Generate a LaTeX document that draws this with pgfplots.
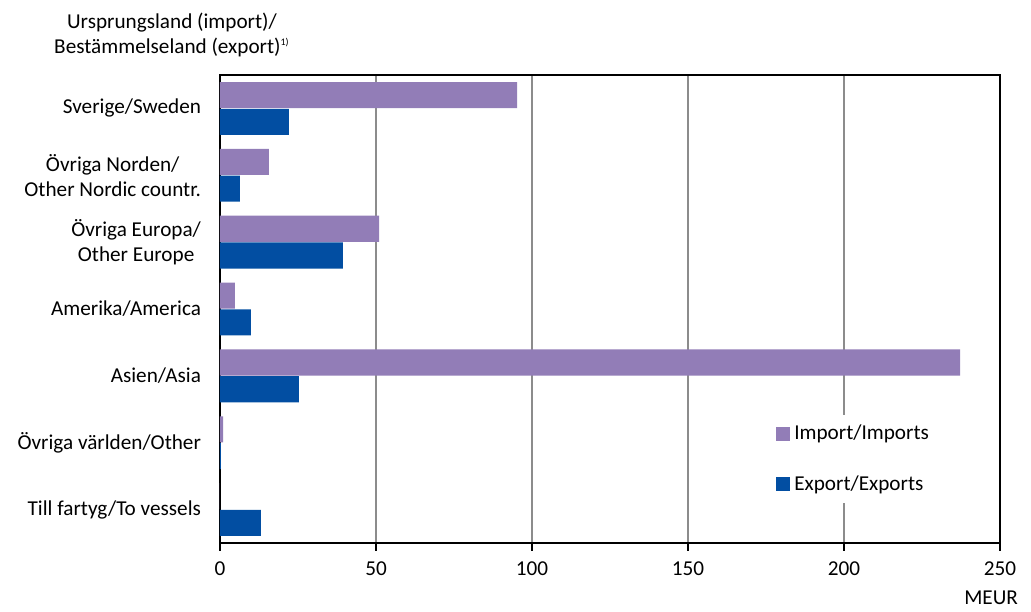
\documentclass[border=0pt]{standalone}
\usepackage{fontspec}
\setmainfont{Carlito}
\usepackage{pgfplots}
\pgfplotsset{compat=1.18}
\definecolor{impcol}{RGB}{146,125,183}
\definecolor{expcol}{RGB}{2,78,162}
\definecolor{gridcol}{RGB}{140,140,140}
\begin{document}
\begin{tikzpicture}
\begin{axis}[
  name=ax,
  scale only axis,
  width=390pt, height=234pt,
  xmin=0, xmax=250,
  ymin=-0.5, ymax=6.5,
  xtick={0,50,...,250},
  ytick={0,...,6},
  yticklabels={Till fartyg/To vessels, Övriga världen/Other, Asien/Asia, Amerika/America, {Övriga Europa/\\Other Europe}, {Övriga Norden/\\Other Nordic countr.}, Sverige/Sweden},
  yticklabel style={align=center, xshift=-2pt},
  xticklabel style={yshift=-2pt},
  /pgf/number format/assume math mode=true,
  font=\fontsize{10.6}{12.5}\selectfont,
  xmajorgrids,
  grid style={gridcol, line width=0.6pt},
  axis line style={black, line width=0.7pt},
  tick style={black, line width=0.6pt},
  ytick style={draw=none},
  xtick pos=bottom,
  tick align=outside,
  major tick length=4pt,
  xbar,
  bar width=0.39,
  legend style={at={(0.705,0.275)}, anchor=north west, draw=none, fill=white,
    font=\fontsize{10.6}{12.5}\selectfont, row sep=12.5pt, inner sep=3pt},
  legend cell align=left,
  legend image code/.code={\fill[#1] (0pt,-3.5pt) rectangle (7pt,3.5pt);},
]
\addplot[fill=impcol, draw=none, bar shift=0.2] coordinates {
  (95.2,6) (15.7,5) (51.0,4) (4.8,3) (237.2,2) (1.0,1) (0,0)};
\addlegendentry{Import/Imports}
\addplot[fill=expcol, draw=none, bar shift=-0.2] coordinates {
  (22.1,6) (6.4,5) (39.4,4) (9.9,3) (25.3,2) (0.3,1) (13.1,0)};
\addlegendentry{Export/Exports}
\end{axis}
\node[align=center, font=\fontsize{10.6}{12.5}\selectfont] at ([xshift=-24pt,yshift=20pt]ax.north west)
  {Ursprungsland (import)/\\Bestämmelseland (export)\textsuperscript{\tiny 1)}};
\node[anchor=east, font=\fontsize{10.6}{12.5}\selectfont] at ([xshift=12.5pt,yshift=-27.5pt]ax.south east) {MEUR};
\path ([xshift=-110pt,yshift=-33pt]ax.south west) rectangle ([xshift=15.5pt,yshift=37.5pt]ax.north east);
\end{tikzpicture}
\end{document}
